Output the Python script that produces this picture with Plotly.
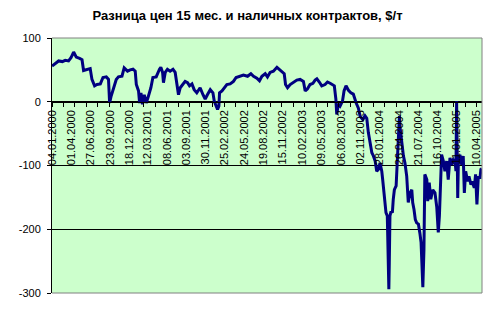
import plotly.graph_objects as go

TITLE = "Разница цен 15 мес. и наличных контрактов, $/т"

dates = [
    "2000-01-04", "2000-01-19", "2000-02-03", "2000-02-20", "2000-03-04", "2000-03-19", "2000-03-30",
    "2000-04-11", "2000-04-23", "2000-05-08", "2000-05-19", "2000-05-26", "2000-06-10", "2000-06-25",
    "2000-07-03", "2000-07-15", "2000-07-26", "2000-08-10", "2000-08-22", "2000-09-06", "2000-09-16",
    "2000-09-21", "2000-09-28", "2000-10-09", "2000-10-21", "2000-10-31", "2000-11-16", "2000-11-26",
    "2000-12-11", "2000-12-23", "2001-01-05", "2001-01-15", "2001-01-20", "2001-01-30", "2001-02-04",
    "2001-02-10", "2001-02-17", "2001-02-25", "2001-03-06", "2001-03-16", "2001-03-27", "2001-04-05",
    "2001-04-20", "2001-05-05", "2001-05-11", "2001-05-19", "2001-05-23", "2001-05-31", "2001-06-10",
    "2001-06-22", "2001-07-05", "2001-07-15", "2001-07-23", "2001-07-30", "2001-08-07", "2001-08-19",
    "2001-08-29", "2001-09-09", "2001-09-18", "2001-09-29", "2001-10-09", "2001-10-21", "2001-11-05",
    "2001-11-18", "2001-11-28", "2001-12-08", "2001-12-21", "2002-01-02", "2002-01-08", "2002-01-17",
    "2002-01-23", "2002-01-29", "2002-02-01", "2002-02-12", "2002-02-22", "2002-03-06", "2002-03-21",
    "2002-04-05", "2002-04-17", "2002-05-02", "2002-05-20", "2002-06-08", "2002-06-23", "2002-07-05",
    "2002-07-20", "2002-08-01", "2002-08-12", "2002-08-27", "2002-09-06", "2002-09-18", "2002-10-03",
    "2002-10-19", "2002-10-30", "2002-11-10", "2002-11-21", "2002-11-27", "2002-12-06", "2002-12-18",
    "2003-01-02", "2003-01-17", "2003-02-01", "2003-02-16", "2003-02-24", "2003-03-06", "2003-03-18",
    "2003-03-31", "2003-04-10", "2003-04-18", "2003-04-29", "2003-05-10", "2003-05-25", "2003-06-05",
    "2003-06-17", "2003-06-29", "2003-07-06", "2003-07-13", "2003-07-17", "2003-07-24", "2003-08-01",
    "2003-08-12", "2003-08-19", "2003-08-28", "2003-09-08", "2003-09-19", "2003-09-30", "2003-10-13",
    "2003-10-23", "2003-10-31", "2003-11-12", "2003-11-22", "2003-11-30", "2003-12-07", "2003-12-15",
    "2003-12-23", "2003-12-30", "2004-01-07", "2004-01-14", "2004-01-22", "2004-01-29", "2004-02-06",
    "2004-02-10", "2004-02-16", "2004-02-21", "2004-02-25", "2004-03-02", "2004-03-07", "2004-03-09",
    "2004-03-11", "2004-03-14", "2004-03-19", "2004-03-25", "2004-03-29", "2004-04-03", "2004-04-11",
    "2004-04-16", "2004-04-21", "2004-04-26", "2004-04-29", "2004-05-06", "2004-05-14", "2004-05-21",
    "2004-05-29", "2004-06-05", "2004-06-13", "2004-06-21", "2004-06-25", "2004-07-01", "2004-07-07",
    "2004-07-13", "2004-07-21", "2004-07-28", "2004-08-02", "2004-08-05", "2004-08-10", "2004-08-15",
    "2004-08-19", "2004-08-28", "2004-09-01", "2004-09-08", "2004-09-15", "2004-09-24", "2004-10-04",
    "2004-10-12", "2004-10-19", "2004-10-24", "2004-10-30", "2004-11-03", "2004-11-11", "2004-11-18",
    "2004-11-26", "2004-12-03", "2004-12-11", "2004-12-19", "2004-12-26", "2005-01-03", "2005-01-07",
    "2005-01-10", "2005-01-15", "2005-01-18", "2005-01-25", "2005-02-02", "2005-02-09", "2005-02-14",
    "2005-02-20", "2005-03-01", "2005-03-07", "2005-03-16", "2005-03-22", "2005-03-31", "2005-04-06",
    "2005-04-12", "2005-04-18", "2005-04-26", "2005-04-30", "2005-05-04",
]

spread = [
    56, 60, 64, 63, 65, 64, 69,
    78, 70, 68, 66, 49, 51, 52,
    35, 25, 27, 28, 38, 39, 35,
    -2, 9, 22, 35, 39, 40, 53,
    48, 50, 51, 48, 27, 17, -2,
    14, -4, 11, -2, 9, 22, 38,
    39, 51, 54, 46, 30, 46, 51,
    48, 51, 46, 27, 11, 22, 27,
    32, 30, 25, 28, 19, 14, 22,
    11, 4, 11, 19, 14, 1, -7,
    -12, -7, 14, 17, 22, 27, 28,
    32, 38, 40, 42, 40, 44, 40,
    37, 33, 40, 44, 39, 46, 48,
    54, 51, 48, 44, 27, 22, 27,
    31, 34, 35, 32, 17, 20, 27,
    29, 34, 36, 31, 25, 27, 31,
    29, 26, 25, 4, -20, -4, -7,
    1, 17, 25, 18, 14, 12, -2,
    -10, -23, -28, -22, -26, -48, -62,
    -80, -85, -93, -109, -106, -96, -109,
    -122, -143, -169, -174, -179, -247, -294,
    -253, -179, -172, -174, -153, -138, -132,
    -85, -49, -22, -41, -67, -85, -96,
    -117, -158, -143, -138, -158, -169, -185,
    -190, -192, -207, -221, -247, -291, -232,
    -114, -122, -156, -127, -153, -138, -143,
    -165, -205, -179, -127, -83, -93, -109,
    -93, -122, -88, -99, -91, -93, -109,
    1, -151, -93, -83, -99, -85, -143,
    -109, -125, -117, -130, -125, -135, -114,
    -161, -119, -119, -106, -105,
]

tick_dates = [
    "2000-01-04", "2000-04-01", "2000-06-27", "2000-09-23", "2000-12-18", "2001-03-12",
    "2001-06-08", "2001-09-03", "2001-11-30", "2002-02-25", "2002-05-24", "2002-08-19",
    "2002-11-15", "2003-02-10", "2003-05-09", "2003-08-06", "2003-11-02", "2004-01-28",
    "2004-04-26", "2004-07-21", "2004-10-16", "2005-01-11", "2005-04-10",
]
tick_labels = [
    "04.01.2000", "01.04.2000", "27.06.2000", "23.09.2000", "18.12.2000", "12.03.2001",
    "08.06.2001", "03.09.2001", "30.11.2001", "25.02.2002", "24.05.2002", "19.08.2002",
    "15.11.2002", "10.02.2003", "09.05.2003", "06.08.2003", "02.11.2003", "28.01.2004",
    "26.04.2004", "21.07.2004", "16.10.2004", "11.01.2005", "10.04.2005",
]

y_ticks = [100, 0, -100, -200, -300]
y_labels = ["100", "0", "-100", "-200", "-300"]

FONT = "Liberation Sans, Arial, sans-serif"

fig = go.Figure()
fig.add_trace(go.Scatter(
    x=dates, y=spread, mode="lines",
    line=dict(color="#000080", width=3),
    showlegend=False, hoverinfo="skip",
))

fig.update_layout(
    width=500, height=311,
    margin=dict(l=52, r=18, t=38, b=18),
    paper_bgcolor="white",
    plot_bgcolor="#CCFFCC",
    font=dict(family=FONT, size=11, color="black"),
    title=dict(
        text="<b>" + TITLE + "</b>",
        font=dict(family=FONT, size=13, color="black"),
        x=0.495, xref="container", xanchor="center",
        y=1 - 15 / 311, yref="container", yanchor="middle",
    ),
    xaxis=dict(
        type="date",
        range=["2000-01-04", "2005-05-05"],
        tickmode="array", tickvals=tick_dates, ticktext=tick_labels,
        tickangle=-90, ticks="", showgrid=False, zeroline=False,
        showline=True, linecolor="black", linewidth=1,
        anchor="free", position=0.75,
        tickfont=dict(family=FONT, size=11, color="black"),
        ticklabelstandoff=3,
        minor=dict(ticks="outside", ticklen=4, tickcolor="black", tickwidth=1,
                   dtick=52 * 86400000, tick0="2000-01-04", showgrid=False),
    ),
    yaxis=dict(
        range=[-300, 100],
        tickmode="array", tickvals=y_ticks, ticktext=y_labels,
        ticks="outside", ticklen=4, tickcolor="black",
        showline=True, linecolor="black", linewidth=1,
        showgrid=True, gridcolor="black", gridwidth=1,
        zeroline=False,
        tickfont=dict(family=FONT, size=11, color="black"),
        ticklabelstandoff=4,
    ),
    shapes=[dict(
        type="path", xref="paper", yref="paper",
        path="M 0 1 L 1 1 L 1 0 L 0 0",
        line=dict(color="#808080", width=1), layer="above",
    )],
)

fig.write_html("out.html")
